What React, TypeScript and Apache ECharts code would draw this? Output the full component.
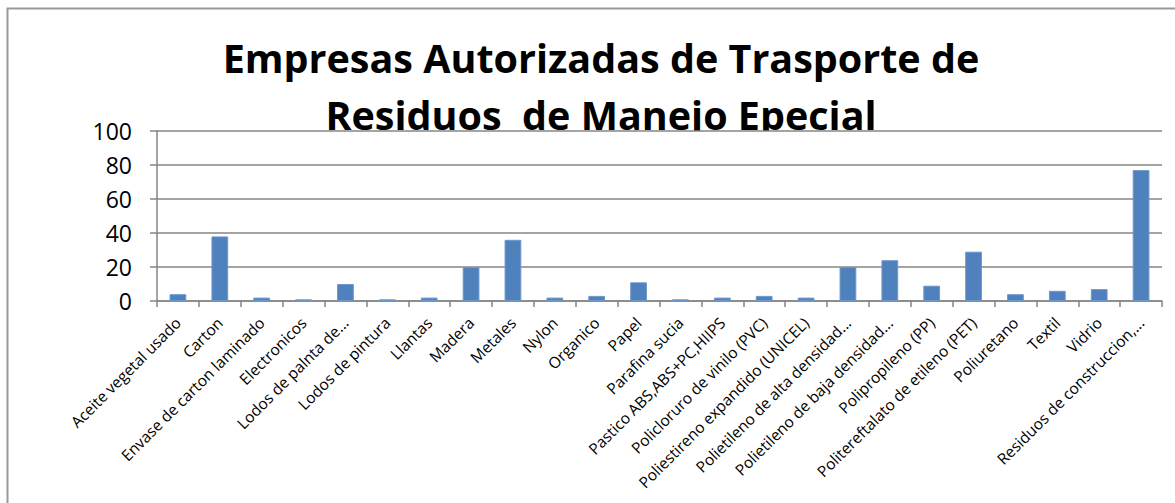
import React, { useEffect, useRef } from "react";
import * as echarts from "echarts";

const categories: string[] = [
  "Aceite vegetal usado",
  "Carton",
  "Envase de carton laminado",
  "Electronicos",
  "Lodos de palnta de...",
  "Lodos de pintura",
  "Llantas",
  "Madera",
  "Metales",
  "Nylon",
  "Organico",
  "Papel",
  "Parafina sucia",
  "Pastico ABS,ABS+PC,HIIPS",
  "Policloruro de vinilo (PVC)",
  "Poliestireno expandido (UNICEL)",
  "Polietileno de alta densidad...",
  "Polietileno de baja densidad...",
  "Polipropileno (PP)",
  "Politereftalato de etileno (PET)",
  "Poliuretano",
  "Textil",
  "Vidrio",
  "Residuos de construccion,...",
];

const values: number[] = [4, 38, 2, 1, 10, 1, 2, 20, 36, 2, 3, 11, 1, 2, 3, 2, 20, 24, 9, 29, 4, 6, 7, 77];

const titleLines: string[] = ["Empresas Autorizadas de Trasporte de", "Residuos  de Manejo Epecial"];

const yMin = 0;
const yMax = 100;
const yStep = 20;

export default function App() {
  const ref = useRef<HTMLDivElement>(null);
  useEffect(() => {
    document.body.style.margin = "0";
    const chart = echarts.init(ref.current!, undefined, { renderer: "svg" });
    chart.setOption({
      animation: false,
      backgroundColor: "#ffffff",
      title: {
        text: titleLines.join("\n"),
        left: 596,
        top: 24,
        textAlign: "center",
        z: 1,
        textStyle: {
          fontFamily: "Open Sans",
          fontWeight: "bold",
          fontSize: 39.5,
          lineHeight: 57,
          color: "#000000",
        },
      },
      graphic: [
        {
          type: "rect",
          shape: { x: 157, y: 131, width: 1005, height: 171 },
          style: { fill: "#ffffff" },
          z: 2,
          silent: true,
        },
        {
          type: "rect",
          shape: { x: 7.5, y: 8.5, width: 1300, height: 700 },
          style: { fill: "none", stroke: "#9a9a9a", lineWidth: 2 },
          z: 100,
          silent: true,
        },
      ],
      grid: { left: 157, right: 13, top: 131, bottom: 202 },
      xAxis: {
        type: "category",
        data: categories,
        z: 3,
        axisLine: { lineStyle: { color: "#868686", width: 1.5 } },
        axisTick: { show: true, length: 6, lineStyle: { color: "#868686", width: 1.5 } },
        axisLabel: {
          interval: 0,
          rotate: 45,
          margin: 19,
          fontFamily: "Open Sans",
          fontSize: 15.5,
          color: "#000000",
        },
      },
      yAxis: {
        type: "value",
        min: yMin,
        max: yMax,
        interval: yStep,
        z: 3,
        axisLine: { show: true, lineStyle: { color: "#868686", width: 1.5 } },
        axisTick: { show: true, length: 7, lineStyle: { color: "#868686", width: 1.5 } },
        splitLine: { lineStyle: { color: "#868686", width: 1.5 } },
        axisLabel: {
          margin: 25,
          fontFamily: "Open Sans",
          fontSize: 23,
          color: "#000000",
        },
      },
      series: [
        {
          type: "bar",
          data: values,
          z: 4,
          barCategoryGap: "60%",
          itemStyle: { color: "#4f81bd", borderColor: "#6f97c9", borderWidth: 1 },
        },
      ],
    });
    return () => chart.dispose();
  }, []);
  return <div ref={ref} style={{ width: 1175, height: 503 }} />;
}
